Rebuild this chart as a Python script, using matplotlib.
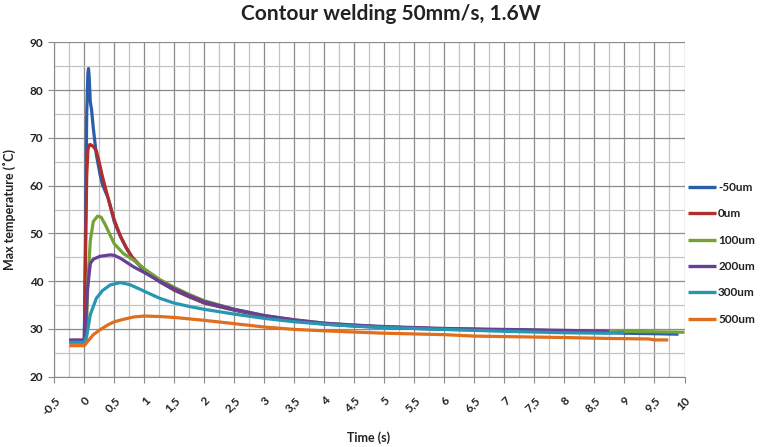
import numpy as np
import matplotlib.pyplot as plt
from matplotlib.ticker import MultipleLocator, FixedLocator

plt.rcParams['font.family'] = ['Lato', 'DejaVu Sans']

# ---- data ----
t_m50 = [-0.25, -0.1, 0.0, 0.02, 0.04, 0.06, 0.07, 0.08, 0.1, 0.12, 0.15, 0.2, 0.26, 0.3, 0.4, 0.5, 0.6,
         0.7, 0.8, 1.0, 1.25, 1.5, 1.75, 2.0, 2.5, 3.0, 3.5, 4.0, 4.5, 5.0, 6.0, 7.0, 8.0, 9.0, 9.5, 9.9]
T_m50 = [27.5, 27.5, 27.6, 50.0, 75.0, 83.5, 84.5, 83.0, 77.5, 76.0, 72.0, 66.5, 62.5, 60.3, 57.3, 52.4, 49.4,
         46.9, 44.9, 42.2, 39.9, 38.1, 36.7, 35.4, 33.9, 32.6, 31.7, 31.0, 30.6, 30.3, 29.9, 29.7, 29.5, 29.1, 29.0, 28.9]

t_0 = [-0.25, -0.1, 0.0, 0.02, 0.04, 0.06, 0.08, 0.1, 0.15, 0.2, 0.25, 0.3, 0.35, 0.4, 0.5, 0.6, 0.7, 0.8,
       1.0, 1.25, 1.5, 1.75, 2.0, 2.5, 3.0, 3.5, 4.0, 4.5, 5.0, 6.0, 7.0, 8.0, 8.7]
T_0 = [27.4, 27.4, 27.5, 45.0, 62.0, 67.5, 68.5, 68.6, 68.2, 67.3, 64.8, 62.0, 59.6, 57.2, 52.8, 49.5, 47.0, 45.0,
       42.3, 40.0, 38.2, 36.8, 35.5, 34.0, 32.7, 31.8, 31.1, 30.7, 30.4, 30.0, 29.8, 29.6, 29.5]

t_100 = [-0.25, -0.1, 0.0, 0.03, 0.06, 0.1, 0.15, 0.22, 0.28, 0.35, 0.5, 0.65, 0.82, 1.0, 1.25, 1.5, 1.75,
         2.0, 2.5, 3.0, 3.5, 4.0, 4.5, 5.0, 6.0, 7.0, 8.0, 8.75, 9.0, 9.5, 10.0]
T_100 = [27.3, 27.3, 27.3, 27.5, 40.0, 48.5, 52.5, 53.6, 53.4, 51.8, 47.8, 45.8, 44.4, 42.6, 40.4, 38.7, 37.2,
         35.9, 34.1, 32.8, 31.9, 31.2, 30.8, 30.4, 30.0, 29.8, 29.6, 29.4, 29.5, 29.4, 29.3]

t_200 = [-0.25, -0.1, 0.0, 0.02, 0.05, 0.1, 0.15, 0.26, 0.43, 0.5, 0.6, 0.82, 1.0, 1.25, 1.5, 1.75, 2.0,
         2.5, 3.0, 3.5, 4.0, 4.5, 5.0, 6.0, 7.0, 8.0, 8.75]
T_200 = [27.7, 27.7, 27.7, 30.0, 38.0, 43.7, 44.6, 45.2, 45.5, 45.4, 44.8, 43.0, 41.8, 40.0, 38.4, 37.0, 35.7,
         34.1, 32.8, 31.9, 31.2, 30.8, 30.5, 30.1, 29.9, 29.7, 29.5]

t_300 = [-0.25, -0.1, 0.0, 0.04, 0.1, 0.2, 0.3, 0.43, 0.6, 0.75, 0.93, 1.1, 1.26, 1.5, 1.75, 2.0, 2.5, 3.0,
         3.5, 4.0, 4.5, 5.0, 6.0, 7.0, 8.0, 8.7, 9.0]
T_300 = [27.2, 27.2, 27.2, 28.5, 33.0, 36.4, 38.0, 39.2, 39.7, 39.3, 38.3, 37.3, 36.4, 35.4, 34.7, 34.1, 33.1, 32.2,
         31.5, 31.0, 30.6, 30.3, 29.9, 29.5, 29.2, 29.1, 29.3]

t_500 = [-0.25, -0.1, 0.0, 0.05, 0.15, 0.26, 0.4, 0.5, 0.65, 0.82, 1.0, 1.25, 1.5, 2.0, 2.5, 3.0, 3.5,
         4.0, 5.0, 6.0, 6.5, 7.0, 8.0, 8.75, 9.4, 9.5, 9.73]
T_500 = [26.5, 26.5, 26.5, 27.3, 28.8, 29.8, 30.9, 31.5, 32.0, 32.5, 32.7, 32.6, 32.4, 31.8, 31.1, 30.4, 29.9,
         29.6, 29.1, 28.8, 28.5, 28.4, 28.2, 28.0, 27.9, 27.7, 27.7]

series = [('-50um', t_m50, T_m50, '#2A5DAA'),
          ('0um', t_0, T_0, '#B02E2C'),
          ('100um', t_100, T_100, '#74A236'),
          ('200um', t_200, T_200, '#673F97'),
          ('300um', t_300, T_300, '#2896B1'),
          ('500um', t_500, T_500, '#E06E1C')]

xticks = np.arange(-0.5, 10.01, 0.5)
xlabels = [('%g' % v).replace('.', ',') for v in xticks]

fig = plt.figure(figsize=(7.62, 4.47), dpi=100)
ax = fig.add_axes([54.3 / 762, 70.3 / 447, 630.2 / 762, 334.4 / 447])

for name, t, T, c in series:
    ax.plot(t, T, color=c, lw=2.3, label=name, solid_capstyle='butt', solid_joinstyle='round')

ax.set_xlim(-0.5, 10)
ax.set_ylim(20, 90)
ax.xaxis.set_major_locator(FixedLocator(xticks))
ax.xaxis.set_minor_locator(MultipleLocator(0.25))
ax.yaxis.set_major_locator(MultipleLocator(10))
ax.yaxis.set_minor_locator(MultipleLocator(5))
ax.set_xticklabels(xlabels, rotation=45, ha='right', va='top', rotation_mode='anchor')

ax.grid(which='major', color='#8a8a8a', lw=0.9)
ax.grid(which='minor', color='#c4c4c4', lw=0.9)
ax.set_axisbelow(True)

for s in ['top', 'right']:
    ax.spines[s].set_visible(False)
for s in ['left', 'bottom']:
    ax.spines[s].set_color('#8a8a8a')
ax.tick_params(which='major', length=4, color='#8a8a8a', labelsize=8.5, labelcolor='#222222')
ax.tick_params(axis='x', pad=9)
ax.tick_params(axis='y', pad=4)
ax.tick_params(which='minor', length=0)
for lab in ax.get_xticklabels() + ax.get_yticklabels():
    lab.set_fontweight('bold')

fig.text(391 / 762, 1 - 14 / 447, 'Contour welding 50mm/s, 1.6W', ha='center', va='center',
         fontsize=15, fontweight='bold', color='#222222')
fig.text(9 / 762, 1 - 210 / 447, 'Max temperature (˚C)', rotation=90, ha='center', va='center',
         fontsize=9, fontweight='bold', color='#222222')
fig.text(369 / 762, 1 - 438 / 447, 'Time (s)', ha='center', va='center',
         fontsize=9, fontweight='bold', color='#222222')

leg = fig.legend(loc='upper left', bbox_to_anchor=(688 / 762, 1 - 182 / 447), frameon=False,
                 fontsize=8.5, handlelength=2.4, handletextpad=0.15, labelspacing=1.3,
                 borderpad=0, borderaxespad=0)
for txt in leg.get_texts():
    txt.set_fontweight('bold')
    txt.set_color('#222222')
for ln in leg.get_lines():
    ln.set_linewidth(2.4)

fig.savefig('out.png', dpi=100)
